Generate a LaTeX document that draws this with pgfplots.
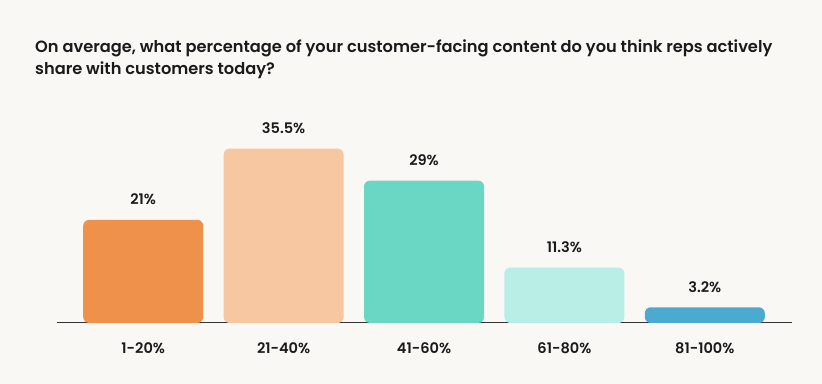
\documentclass[border=0pt]{standalone}
\usepackage{pgfplots}
\pgfplotsset{compat=1.18}
\usepackage{pgfplotstable}
\usepackage{fontspec}
\setmainfont{Poppins}[BoldFont={Poppins SemiBold}]
\definecolor{bg}{HTML}{F9F8F5}
\definecolor{txt}{HTML}{1A1A1A}
\definecolor{axl}{HTML}{333333}
\definecolor{c1}{HTML}{F0914B}
\definecolor{c2}{HTML}{F7C7A1}
\definecolor{c3}{HTML}{6AD7C5}
\definecolor{c4}{HTML}{B9EEE7}
\definecolor{c5}{HTML}{4CA9D0}
\pgfplotstableread{
x v
0 21
1 35.5
2 29
3 11.3
4 3.2
}\data
\begin{document}
\begin{tikzpicture}
\fill[bg] (0,0) rectangle (822bp,384bp);
\useasboundingbox (0,0) rectangle (822bp,384bp);
\node[anchor=base west, align=left, text=txt, font=\bfseries\fontsize{16.3}{23}\selectfont, inner sep=0pt] at (35bp,309bp)
 {On average, what percentage of your customer-facing content do you think reps actively\\share with customers today?};
\begin{axis}[
  at={(57bp,61bp)}, anchor=south west,
  scale only axis, width=735bp, height=221bp,
  xmin=-0.614, xmax=4.621, ymin=5, ymax=50,
  axis x line*=bottom, axis y line=none,
  x axis line style={draw=axl, line width=1bp, -},
  xtick={0,1,2,3,4}, xticklabels={1-20\%,21-40\%,41-60\%,61-80\%,81-100\%},
  major tick length=0pt,
  xticklabel style={font=\bfseries\fontsize{14.6}{16}\selectfont, text=txt, anchor=base, inner sep=0pt, yshift=-31bp},
  ytick=\empty,
  ybar, bar width=120bp,
  point meta=explicit,
  nodes near coords={\pgfmathprintnumber{\pgfplotspointmeta}\%},
  every node near coord/.append style={font=\bfseries\fontsize{14.6}{16}\selectfont, text=txt, anchor=base, inner sep=0pt, yshift=15bp},
  /pgf/number format/assume math mode=true,
]
\addplot[fill=c1, draw=none, rounded corners=6bp, bar shift=0pt, restrict x to domain=-0.1:0.1] table[x=x, y expr=\thisrow{v}+5, meta=v]{\data};
\addplot[fill=c2, draw=none, rounded corners=6bp, bar shift=0pt, restrict x to domain=0.9:1.1] table[x=x, y expr=\thisrow{v}+5, meta=v]{\data};
\addplot[fill=c3, draw=none, rounded corners=6bp, bar shift=0pt, restrict x to domain=1.9:2.1] table[x=x, y expr=\thisrow{v}+5, meta=v]{\data};
\addplot[fill=c4, draw=none, rounded corners=6bp, bar shift=0pt, restrict x to domain=2.9:3.1] table[x=x, y expr=\thisrow{v}+5, meta=v]{\data};
\addplot[fill=c5, draw=none, rounded corners=6bp, bar shift=0pt, restrict x to domain=3.9:4.1] table[x=x, y expr=\thisrow{v}+5, meta=v]{\data};
\end{axis}
\end{tikzpicture}
\end{document}
